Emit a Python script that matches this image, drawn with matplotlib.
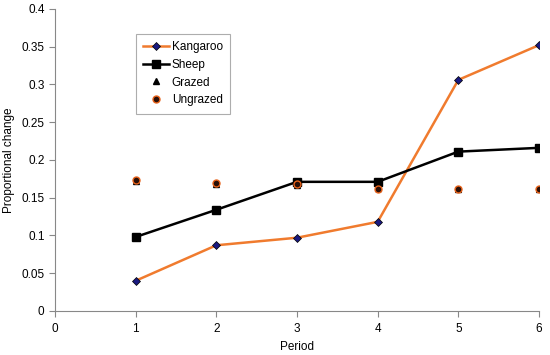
import numpy as np
from matplotlib import pyplot as plt

plt.rcParams['font.family'] = ['Liberation Sans', 'DejaVu Sans']

# Data
periods = [1, 2, 3, 4, 5, 6]
kangaroo = [0.040, 0.087, 0.097, 0.118, 0.306, 0.352]
sheep = [0.098, 0.134, 0.171, 0.171, 0.211, 0.216]
grazed = [0.172, 0.168, 0.167, 0.163, 0.162, 0.162]
ungrazed = [0.174, 0.170, 0.168, 0.162, 0.161, 0.161]

fig = plt.figure(figsize=(5.5, 3.55), dpi=100)
ax = fig.add_axes([0.1, 0.124, 0.88, 0.851])

ax.plot(periods, kangaroo, color='#f07b2e', lw=1.8, marker='D', ms=4,
        mfc='#1a1a80', mec='black', mew=0.5, label='Kangaroo', zorder=3)
ax.plot(periods, sheep, color='black', lw=1.8, marker='s', ms=6,
        label='Sheep', zorder=3)
ax.plot(periods, grazed, ls='none', marker='^', ms=5, color='black',
        label='Grazed', zorder=4)
ax.plot(periods, ungrazed, ls='none', marker='o', ms=5, mfc='#2a1008',
        mec='#e8621a', mew=1, label='Ungrazed', zorder=4)

ax.set_xlim(0, 6)
ax.set_ylim(0, 0.4)
ax.set_xticks(range(0, 7))
ax.set_yticks(np.arange(0, 0.41, 0.05))
ax.set_yticklabels(['0', '0.05', '0.1', '0.15', '0.2', '0.25', '0.3', '0.35', '0.4'])

for s in ['top', 'right']:
    ax.spines[s].set_visible(False)
for s in ['left', 'bottom']:
    ax.spines[s].set_color('#888888')
ax.tick_params(colors='#888888', labelcolor='black', labelsize=8.5, length=4)
ax.tick_params(axis='x', pad=5)

ax.set_xlabel('Period', fontsize=8.5, labelpad=4)
ax.set_ylabel('Proportional change', fontsize=8.5, labelpad=5)

leg = ax.legend(loc='upper left', bbox_to_anchor=(0.168, 0.918), fontsize=8.5,
                frameon=True, fancybox=False, edgecolor='#999999',
                handlelength=2.2, handletextpad=0.2, borderpad=0.6,
                labelspacing=0.5, borderaxespad=0)
leg.get_frame().set_linewidth(0.8)

fig.savefig('out.png', dpi=100)
